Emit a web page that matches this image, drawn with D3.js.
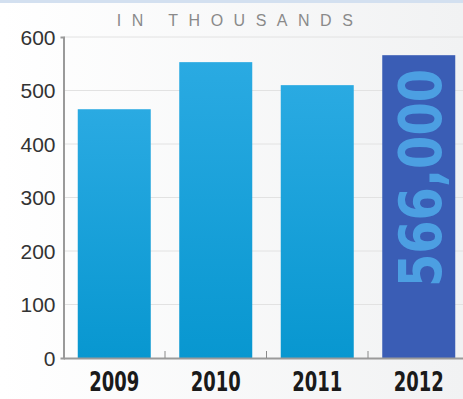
<!DOCTYPE html>
<html><head><meta charset="utf-8">
<script src="https://cdn.jsdelivr.net/npm/d3@7"></script>
<style>html,body{margin:0;padding:0;background:#fff;}svg{display:block;}</style>
</head><body>
<svg id="chart" width="463" height="399"></svg>
<script>
const years = ["2009", "2010", "2011", "2012"];
const values = [465, 553, 510, 566];
const yTicks = [0, 100, 200, 300, 400, 500, 600];
const highlightLabel = "566,000";
const subtitle = "IN THOUSANDS";

const svg = d3.select("#chart");
const W = 463, H = 399;
const defs = svg.append("defs");
const bg = defs.append("linearGradient").attr("id","bg").attr("x1",0).attr("x2",1).attr("y1",0).attr("y2",0);
bg.append("stop").attr("offset","0%").attr("stop-color","#ffffff");
bg.append("stop").attr("offset","100%").attr("stop-color","#f1f2f3");
const bar = defs.append("linearGradient").attr("id","barg").attr("x1",0).attr("x2",0).attr("y1",0).attr("y2",1);
bar.append("stop").attr("offset","0%").attr("stop-color","#2aaae2");
bar.append("stop").attr("offset","100%").attr("stop-color","#0897d0");

svg.append("rect").attr("width",W).attr("height",H).attr("fill","url(#bg)");
svg.append("rect").attr("x",0).attr("y",0).attr("width",W).attr("height",3).attr("fill","#d3e0f0");

const x = d3.scaleBand().domain(years).range([63.5, 469.5]).padding(0);
const y = d3.scaleLinear().domain([0, 600]).range([358, 37]);

// gridlines
svg.append("g").selectAll("line").data(yTicks.filter(d=>d>0)).join("line")
  .attr("x1",64).attr("x2",W).attr("y1",d=>y(d)).attr("y2",d=>y(d))
  .attr("stroke","#e2e2e2").attr("stroke-width",1);

// bars
const bw = 73;
svg.append("g").selectAll("rect").data(values).join("rect")
  .attr("x",(d,i)=>x(years[i]) + x.bandwidth()/2 - bw/2)
  .attr("width",bw)
  .attr("y",d=>y(d))
  .attr("height",d=>y(0)-y(d))
  .attr("fill",(d,i)=> i===3 ? "#3a5db5" : "url(#barg)");

// y axis
const yAxis = d3.axisLeft(y).tickValues(yTicks).tickSize(3).tickPadding(5);
const gy = svg.append("g").attr("transform","translate(63.5,0)").call(yAxis);
gy.select(".domain").attr("stroke","#9a9a9a").attr("stroke-width",2);
gy.selectAll(".tick line").attr("stroke","#9a9a9a").attr("stroke-width",1.5).attr("x2",0).attr("x1",1);
gy.selectAll(".tick text").attr("font-family","'Liberation Sans', Arial, sans-serif")
  .attr("font-size",21).attr("fill","#333").attr("dy","0.35em");

// x axis
const xAxis = d3.axisBottom(x).tickSize(0).tickPadding(14);
const gx = svg.append("g").attr("transform","translate(0,358)").call(xAxis);
gx.select(".domain").attr("stroke","#9a9a9a").attr("stroke-width",2);
gx.selectAll(".tick text").attr("font-family","'DejaVu Sans Condensed','Liberation Sans',sans-serif")
  .attr("font-weight","bold").attr("font-size",27).attr("fill","#1a1a1a")
  .attr("textLength",50).attr("lengthAdjust","spacingAndGlyphs");
// separator ticks between categories
svg.append("g").selectAll("line").data(years.slice(1)).join("line")
  .attr("x1",d=>x(d)).attr("x2",d=>x(d)).attr("y1",351).attr("y2",358)
  .attr("stroke","#8a8a8a").attr("stroke-width",1);

// subtitle
svg.append("text").attr("x",240).attr("y",26).attr("text-anchor","middle")
  .attr("font-family","'Liberation Sans', Arial, sans-serif").attr("font-size",16)
  .attr("letter-spacing","10.5px").attr("fill","#8a8a8a").text(subtitle);

// highlight label
const cx = x("2012") + x.bandwidth()/2, cy = 178;
svg.append("text").attr("transform",`translate(${cx+22},${cy}) rotate(-90)`)
  .attr("text-anchor","middle")
  .attr("font-family","'DejaVu Sans Condensed','Liberation Sans',sans-serif")
  .attr("font-weight","bold").attr("font-size",58).attr("fill","#4c9fe2")
  .attr("textLength",218).attr("lengthAdjust","spacingAndGlyphs")
  .text(highlightLabel);
</script>
</body></html>
